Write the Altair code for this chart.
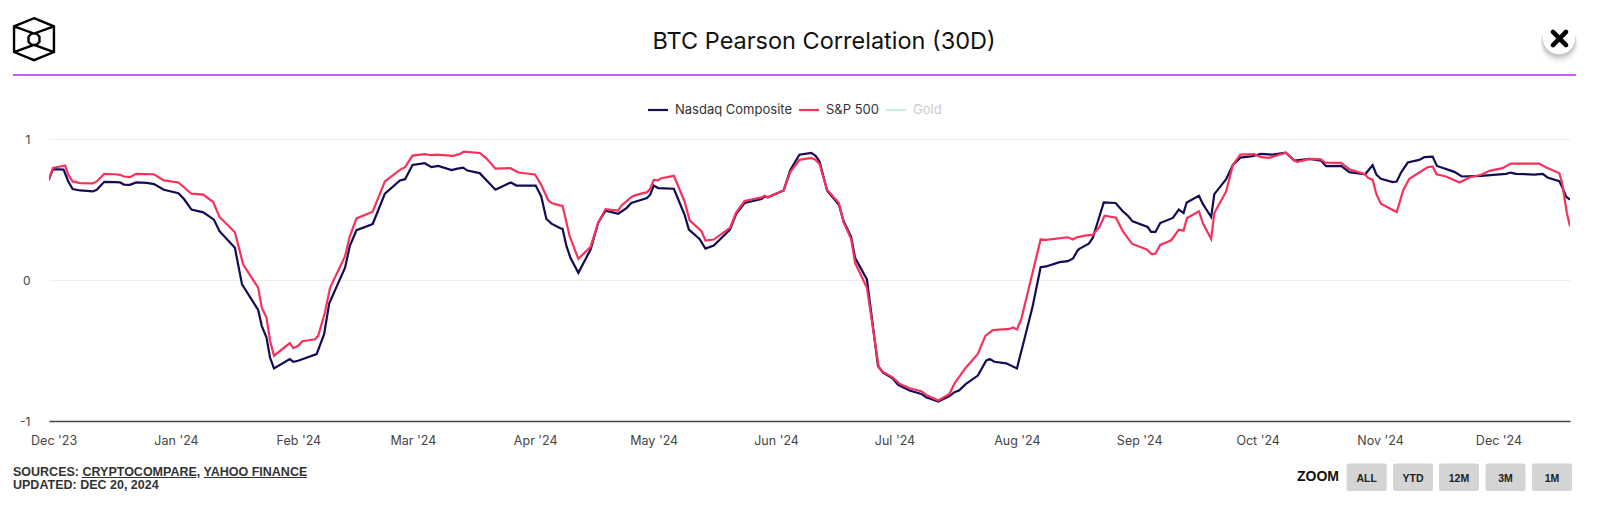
import altair as alt
import pandas as pd

# Days since 2024-01-01 and correlation values
nasdaq_days = [-31.9,-30.8,-28.1,-26.9,-25.8,-23.9,-20.7,-19.7,-17.8,-15.1,-13.8,-12.8,-11.3,-9.7,-7.0,-5.2,-2.7,1.0,2.4,4.3,7.3,10.0,11.4,15.3,17.1,21.2,22.1,23.3,24.2,25.2,29.2,30.1,31.3,
    36.0,37.9,39.2,43.2,44.4,46.1,50.2,53.3,57.1,58.4,60.3,63.4,65.1,66.8,70.2,71.4,73.1,74.2,77.3,81.3,85.2,86.6,91.5,92.9,94.2,95.5,97.6,
    98.3,99.3,100.3,102.3,105.4,107.3,109.2,112.4,114.5,115.7,119.7,120.5,121.4,122.5,126.5,129.2,130.3,133.0,134.5,136.6,140.7,142.3,144.4,148.7,149.5,150.3,154.3,156.0,158.3,161.3,162.4,163.4,
    165.3,168.3,169.5,171.4,172.4,175.4,178.2,179.4,181.9,183.3,186.2,189.2,190.4,193.5,196.3,197.6,198.7,200.5,203.5,205.6,206.5,207.7,210.7,213.4,215.3,217.4,219.4,220.8,224.2,226.3,227.6,228.8,229.2,
    231.6,232.6,235.4,238.4,240.2,241.5,242.7,246.5,247.4,248.5,249.7,252.9,254.4,255.6,256.4,259.5,260.6,262.6,263.4,266.4,268.1,270.0,273.1,275.2,278.2,281.5,283.7,
    287.5,290.4,291.7,295.5,297.6,301.6,303.5,304.5,305.6,308.6,309.6,310.7,312.4,315.3,316.6,318.7,319.8,324.2,326.1,331.0,337.3,338.5,339.8,344.4,346.6,347.8,350.8,351.6,352.5,353.5]
nasdaq_values = [.706,.786,.783,.699,.645,.635,.628,.640,.696,.694,.692,.677,.675,.692,.689,.680,.640,.616,.574,.499,.480,.428,.346,.228,-.031,-.213,-.325,-.408,-.550,-.627,-.561,-.580,-.573,
    -.525,-.384,-.165,.087,.240,.353,.397,.612,.706,.715,.816,.828,.800,.809,.779,.788,.797,.776,.758,.640,.692,.670,.670,.593,.433,.400,.369,
    .362,.240,.157,.051,.216,.404,.492,.470,.510,.546,.581,.605,.670,.652,.647,.463,.357,.291,.223,.244,.357,.470,.546,.574,.593,.586,.635,.781,.889,.901,.880,.840,
    .635,.534,.416,.306,.157,.004,-.608,-.655,-.697,-.744,-.784,-.808,-.831,-.862,-.824,-.796,-.784,-.737,-.678,-.572,-.561,-.580,-.591,-.627,-.419,-.184,.091,.096,.127,.134,.153,.211,.221,
    .258,.298,.550,.546,.487,.456,.416,.376,.341,.341,.404,.440,.499,.475,.550,.597,.534,.447,.609,.715,.816,.868,.878,.894,.889,.903,.847,
    .859,.847,.807,.809,.765,.750,.814,.746,.718,.694,.698,.762,.833,.852,.871,.875,.809,.767,.734,.739,.753,.762,.753,.748,.753,.727,.701,.654,.592,.569]

sp500_days = [-31.9,-30.8,-27.7,-26.9,-25.8,-23.9,-20.7,-19.7,-17.8,-15.1,-13.8,-12.8,-11.3,-9.7,-5.2,-2.7,1.0,4.3,7.3,9.8,11.4,15.3,17.4,21.2,22.1,23.3,24.2,25.2,29.2,30.1,31.3,
    32.4,35.6,36.4,38.1,39.4,43.2,44.4,46.1,50.2,53.3,57.1,58.4,60.3,63.4,65.1,66.4,70.6,72.3,73.3,77.3,79.0,81.3,85.1,87.1,91.3,92.9,94.6,95.5,97.6,
    98.3,100.1,102.3,105.4,107.3,109.2,112.4,113.2,115.7,116.6,119.7,120.5,121.4,122.5,123.3,126.5,129.2,130.5,133.5,134.5,136.6,140.7,142.3,144.4,148.7,149.5,150.3,154.3,156.0,158.3,161.3,162.4,163.4,
    165.3,168.3,169.5,171.4,172.4,175.4,178.4,179.4,181.9,183.6,186.2,189.2,190.4,193.5,196.3,197.6,200.5,203.5,205.4,207.3,211.5,212.4,213.4,214.5,219.4,220.8,226.3,227.6,228.8,229.2,
    230.5,232.6,234.3,235.6,238.5,240.2,242.6,246.3,247.6,248.5,249.7,252.5,254.4,255.6,256.5,259.5,260.6,262.6,263.4,266.4,268.1,270.0,273.5,275.2,277.3,281.5,283.7,284.5,
    287.5,290.4,291.5,295.5,297.6,301.6,302.2,303.5,304.5,305.6,309.6,311.3,312.8,317.4,318.7,319.7,322.1,325.5,328.0,331.0,333.1,336.4,338.5,345.7,347.4,350.8,351.5,352.7,353.5]
sp500_values = [.706,.795,.812,.746,.699,.687,.685,.699,.753,.750,.746,.734,.729,.753,.750,.706,.692,.612,.605,.553,.447,.339,.110,-.055,-.196,-.267,-.431,-.537,-.448,-.483,-.467,
    -.434,-.420,-.396,-.231,-.055,.169,.310,.437,.484,.699,.781,.800,.882,.892,.885,.889,.880,.894,.911,.901,.863,.790,.793,.762,.748,.675,.569,.546,.529,
    .527,.310,.150,.235,.404,.503,.492,.527,.588,.600,.623,.647,.710,.706,.722,.739,.557,.423,.346,.280,.287,.369,.480,.560,.586,.597,.586,.635,.765,.852,.866,.852,.823,
    .640,.546,.409,.291,.122,-.055,-.620,-.650,-.690,-.735,-.768,-.789,-.815,-.855,-.808,-.733,-.620,-.525,-.396,-.356,-.347,-.337,-.351,-.278,.287,.284,.303,.287,.306,.306,
    .315,.320,.376,.456,.442,.346,.256,.216,.183,.188,.249,.282,.357,.350,.440,.487,.397,.291,.475,.628,.816,.889,.892,.871,.866,.903,.845,.838,
    .859,.856,.833,.831,.786,.750,.727,.710,.605,.541,.482,.640,.718,.800,.805,.750,.734,.692,.727,.746,.774,.793,.826,.826,.800,.757,.689,.475,.381]

month_ticks = ["2023-12-01","2024-01-01","2024-02-01","2024-03-01","2024-04-01","2024-05-01","2024-06-01",
               "2024-07-01","2024-08-01","2024-09-01","2024-10-01","2024-11-01","2024-12-01"]
y_ticks = [-1, 0, 1]
series_names = ["Nasdaq Composite", "S&P 500", "Gold"]
series_colors = ["#120c55", "#f8315b", "#c5eeea"]
zoom_labels = ["ALL", "YTD", "12M", "3M", "1M"]

BASE = pd.Timestamp("2024-01-01")
def frame(name, days, values):
    return pd.DataFrame({
        "date": [BASE + pd.Timedelta(days=float(d)) for d in days],
        "value": values,
        "series": name,
    })
df = pd.concat([frame(series_names[0], nasdaq_days, nasdaq_values),
                frame(series_names[1], sp500_days, sp500_values)], ignore_index=True)

# page geometry: svg starts at (8,8), plot area origin from padding
LEFT, TOP, W, H = 49, 139, 1521, 282
PAD = {"left": LEFT - 8, "top": TOP - 8, "right": 1584 - (LEFT - 8) - W, "bottom": 489 - (TOP - 8) - H}
px = lambda x: x - LEFT
py = lambda y: y - TOP
dummy = pd.DataFrame({"a": [0]})
UI_FONT = "Inter"
FOOT_FONT = "Liberation Sans"

lines = alt.Chart(df).mark_line(strokeWidth=2.2, interpolate="linear", clip=True).encode(
    x=alt.X("date:T",
            scale=alt.Scale(domain=["2023-11-30T05:00:00", "2024-12-19T12:00:00"]),
            axis=alt.Axis(values=month_ticks, format="%b '%y", title=None, grid=False, ticks=False,
                          labelFont=UI_FONT, labelFontSize=12.5, labelColor="#444444", labelPadding=13,
                          labelOffset=1.5, domainColor="#444444", domainWidth=1.5, labelAngle=0,
                          labelFlush=False, labelOverlap=False)),
    y=alt.Y("value:Q", scale=alt.Scale(domain=[-1, 1], nice=False),
            axis=alt.Axis(values=y_ticks, labelExpr="datum.value + ''", title=None, grid=True, gridColor="#eeeeee", gridWidth=1,
                          ticks=False, domain=False, labelFont=UI_FONT, labelFontSize=12, labelColor="#444444",
                          labelPadding=19)),
    color=alt.Color("series:N", scale=alt.Scale(domain=series_names, range=series_colors), legend=None),
)

def text(s, x, y, size, color="#000000", weight="normal", font=UI_FONT, align="left", opacity=1):
    return alt.Chart(dummy).mark_text(text=s, font=font, fontSize=size, fontWeight=weight, color=color,
                                      align=align, baseline="middle", opacity=opacity).encode(
        x=alt.value(px(x)), y=alt.value(py(y)))

def hrule(x1, x2, y, color, width):
    return alt.Chart(dummy).mark_rule(color=color, strokeWidth=width).encode(
        x=alt.value(px(x1)), x2=alt.value(px(x2)), y=alt.value(py(y)))

def box(x1, x2, y1, y2, color, radius=0):
    return alt.Chart(dummy).mark_rect(color=color, cornerRadius=radius).encode(
        x=alt.value(px(x1)), x2=alt.value(px(x2)), y=alt.value(py(y1)), y2=alt.value(py(y2)))

def symbol(shape, x, y, size, **kw):
    return alt.Chart(dummy).mark_point(shape=shape, size=size, **kw).encode(
        x=alt.value(px(x)), y=alt.value(py(y)))

LOGO = ("M0,-1L.95,-.61L.95,.61L0,1L-.95,.61L-.95,-.61Z"
        "M-.95,-.61L0,-.27L.95,-.61M-.95,.61L0,.27L.95,.61"
        "M-.12,-.27L.12,-.27L.26,-.12L.26,.12L.12,.27L-.12,.27L-.26,.12L-.26,-.12Z")
CROSS = "M-1,-1L1,1M1,-1L-1,1"

layers = [lines]
layers.append(text("BTC Pearson Correlation (30D)", 824, 41.5, 23.5, color="#111111", align="center"))
layers.append(hrule(13, 1576, 75, "#ac2cfb", 1.5))
layers.append(symbol(LOGO, 34, 39.2, 1764, filled=False, stroke="#000000", strokeWidth=2.4, opacity=1))
for dy, size, op in [(7, 1500, .015), (6, 1400, .02), (5, 1300, .03), (4, 1220, .04), (3, 1150, .06), (2, 1100, .07)]:
    layers.append(symbol("circle", 1559, 38 + dy, size, filled=True, color="#000000", opacity=op))
layers.append(symbol("circle", 1559, 38, 1050, filled=True, color="#ffffff", opacity=1))
layers.append(symbol(CROSS, 1559.5, 38.5, 170, filled=False, stroke="#000000", strokeWidth=4.6, opacity=1, strokeCap="round"))

# legend
for name, color, x1, tx, tc in [
    (series_names[0], series_colors[0], 648, 675, "#333333"),
    (series_names[1], series_colors[1], 799, 826, "#333333"),
    (series_names[2], series_colors[2], 886, 913, "#cccccc"),
]:
    layers.append(hrule(x1, x1 + 20, 110, color, 2.2))
    layers.append(text(name, tx, 110, 13, color=tc))

# footer
layers.append(text("SOURCES: CRYPTOCOMPARE, YAHOO FINANCE", 13, 471.5, 12.5, color="#333333", weight="bold", font=FOOT_FONT))
layers.append(text("UPDATED: DEC 20, 2024", 13, 485, 12.5, color="#333333", weight="bold", font=FOOT_FONT))
layers.append(hrule(81.7, 196, 477.5, "#333333", 1))
layers.append(hrule(204, 307, 477.5, "#333333", 1))

# zoom buttons
layers.append(text("ZOOM", 1297, 476.5, 14, color="#111111", weight="bold", font=FOOT_FONT))
for label, x1 in zip(zoom_labels, [1346.7, 1393, 1439, 1485.5, 1532]):
    layers.append(box(x1, x1 + 40, 463.5, 491, "#d4d4d4", 2))
    layers.append(text(label, x1 + 20, 478.5, 10.5, color="#222222", weight="bold", font=FOOT_FONT, align="center"))

chart = alt.layer(*layers).properties(
    width=W, height=H, padding=PAD, autosize=alt.AutoSizeParams(type="none"), background="#ffffff",
).configure_view(stroke=None)

chart.save("out.html", embed_options={"renderer": "svg", "actions": False})
